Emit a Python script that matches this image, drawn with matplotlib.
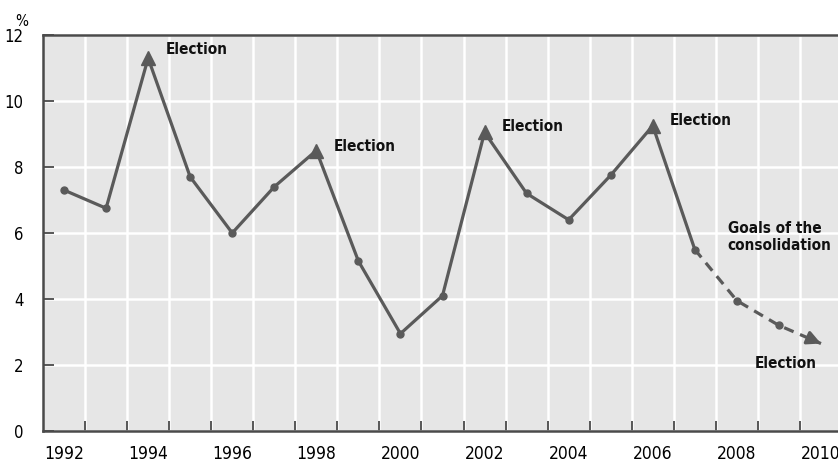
import matplotlib
matplotlib.use('Agg')
import matplotlib.pyplot as plt
from matplotlib import font_manager as fm

# data
years = list(range(1992, 2011))
deficit = [7.3, 6.75, 11.3, 7.7, 6.0, 7.4, 8.5, 5.15, 2.95, 4.1,
           9.05, 7.2, 6.4, 7.75, 9.25, 5.5, 3.95, 3.2, 2.65]
election_years = [1994, 1998, 2002, 2006]
last_actual = 2007
y_ticks = [0, 2, 4, 6, 8, 10, 12]
x_labels = [1992, 1994, 1996, 1998, 2000, 2002, 2004, 2006, 2008, 2010]

# text labels (text, x, y)
notes = [
    ("Election", 1994.42, 11.55),
    ("Election", 1998.42, 8.62),
    ("Election", 2002.42, 9.22),
    ("Election", 2006.40, 9.42),
    ("Goals of the\nconsolidation", 2007.78, 5.88),
    ("Election", 2008.42, 2.05),
]


# look for a narrow / condensed sans face, the reference uses one
def find_face(bold):
    best = None
    for f in fm.fontManager.ttflist:
        fn = f.fname.replace('\\', '/').split('/')[-1].lower()
        if 'oblique' in fn or 'italic' in fn or 'mono' in fn or 'serif' in fn:
            continue
        if not ('narrow' in fn or 'condensed' in fn):
            continue
        if bold != ('bold' in fn):
            continue
        if 'extra' in fn or 'semi' in fn or 'light' in fn:
            continue
        rank = 0 if 'liberationsansnarrow' in fn else 1
        if best is None or rank < best[0]:
            best = (rank, f.fname)
    return best[1] if best else None


reg_file = find_face(False)
bold_file = find_face(True)
narrow = reg_file is not None and bold_file is not None
if narrow:
    fp_reg = fm.FontProperties(fname=reg_file)
    fp_bold = fm.FontProperties(fname=bold_file)
    k = 1.0
else:
    fp_reg = fm.FontProperties(family='DejaVu Sans')
    fp_bold = fm.FontProperties(family='DejaVu Sans', weight='bold')
    k = 0.8

line_col = '#5a5a5a'
dark = '#4a4a4a'

fig = plt.figure(figsize=(8.38, 4.62), dpi=100)
ax = fig.add_axes([43 / 838, 31 / 462, 799 / 838, 396 / 462])
ax.set_facecolor('#e6e6e6')

# solid part and dashed projection
i_end = years.index(last_actual)
ax.plot(years[:i_end + 1], deficit[:i_end + 1], color=line_col, lw=2.3,
        solid_joinstyle='miter', zorder=3)
ax.plot(years[i_end:], deficit[i_end:], color=line_col, lw=2.3,
        ls=(0, (3.2, 2.2)), zorder=3)

# markers
circ_x = [y for y in years[:-1] if y not in election_years]
circ_y = [deficit[years.index(y)] for y in circ_x]
ax.plot(circ_x, circ_y, 'o', color=line_col, ms=5, zorder=4)
tri_y = [deficit[years.index(y)] for y in election_years]
ax.plot(election_years, tri_y, '^', color=line_col, ms=10, zorder=4)

# arrow head at the end of the projection
x0, y0 = years[-2], deficit[-2]
x1, y1 = years[-1], deficit[-1]
ax.annotate('', xy=(x1, y1), xytext=(x0 + 0.7 * (x1 - x0), y0 + 0.7 * (y1 - y0)),
            arrowprops=dict(arrowstyle='-|>,head_length=0.8,head_width=0.4',
                            color=line_col, lw=2.3, shrinkA=0, shrinkB=0),
            zorder=5)

for txt, x, y in notes:
    t = ax.text(x, y, txt, color='#111111', ha='left', va='center',
                linespacing=1.2, zorder=6)
    t.set_fontproperties(fp_bold)
    t.set_fontsize(11 * k)

ax.set_xlim(years[0] - 0.5, years[-1] + 0.5)
ax.set_ylim(0, 12)

ax.set_xticks(x_labels)
ax.set_xticklabels([str(v) for v in x_labels])
ax.set_xticks([y + 0.5 for y in years[:-1]], minor=True)
ax.set_yticks(y_ticks)
ax.set_yticklabels([str(v) for v in y_ticks])

ax.tick_params(axis='x', which='major', length=0, pad=10)
ax.tick_params(axis='x', which='minor', direction='in', length=7, width=1.3,
               color=dark)
ax.tick_params(axis='y', direction='in', length=8, width=1.3, color=dark,
               pad=14)
for lab in ax.get_xticklabels():
    lab.set_fontproperties(fp_reg)
    lab.set_fontsize(12.5 * k)
for lab in ax.get_yticklabels():
    lab.set_fontproperties(fp_reg)
    lab.set_fontsize(12 * k)

ax.grid(True, which='minor', axis='x', color='white', lw=1.8, zorder=0)
ax.grid(True, which='major', axis='y', color='white', lw=1.8, zorder=0)
ax.set_axisbelow(True)

for s in ['left', 'bottom', 'top']:
    ax.spines[s].set_color(dark)
    ax.spines[s].set_linewidth(1.8)
ax.spines['right'].set_visible(False)

pct = fig.text(15 / 838, 1 - 22 / 462, '%', ha='left', va='center')
pct.set_fontproperties(fp_reg)
pct.set_fontsize(11 * k)

fig.savefig('out.png', dpi=100)
